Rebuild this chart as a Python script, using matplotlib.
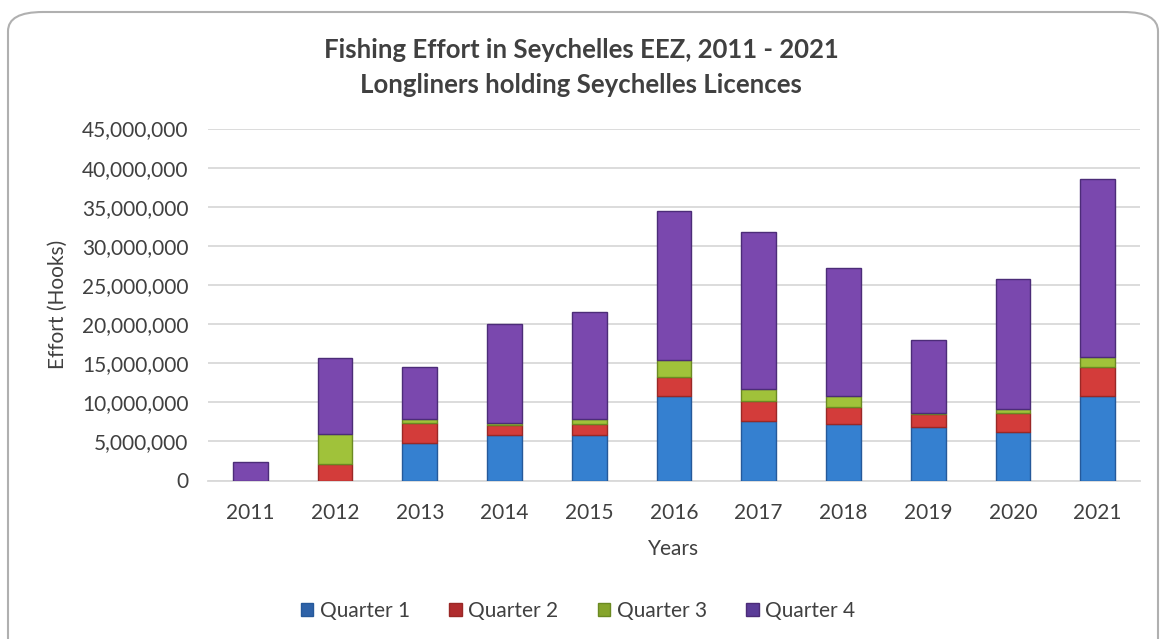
import matplotlib
matplotlib.use("Agg")
import matplotlib.pyplot as plt
from matplotlib.patches import FancyBboxPatch
from matplotlib.ticker import FuncFormatter
import numpy as np

years = ["2011", "2012", "2013", "2014", "2015", "2016", "2017", "2018", "2019", "2020", "2021"]
q1 = [0, 0, 4.80e6, 5.80e6, 5.80e6, 10.85e6, 7.55e6, 7.25e6, 6.80e6, 6.20e6, 10.85e6]
q2 = [0, 2.15e6, 2.55e6, 1.30e6, 1.45e6, 2.40e6, 2.60e6, 2.20e6, 1.65e6, 2.45e6, 3.60e6]
q3 = [0, 3.80e6, 0.45e6, 0.30e6, 0.55e6, 2.10e6, 1.55e6, 1.40e6, 0.15e6, 0.50e6, 1.30e6]
q4 = [2.35e6, 9.75e6, 6.70e6, 12.55e6, 13.75e6, 19.10e6, 20.10e6, 16.35e6, 9.40e6, 16.65e6, 22.80e6]
series_names = ["Quarter 1", "Quarter 2", "Quarter 3", "Quarter 4"]
colors = ["#3580D0", "#D33C3A", "#A0C23A", "#7A48AE"]
edges = ["#25599A", "#9A2826", "#6B8A22", "#4C2C78"]
legend_colors = ["#2E62A8", "#B02C2E", "#86A52C", "#5B3C98"]

plt.rcParams['font.family'] = ['Lato', 'DejaVu Sans']

fig = plt.figure(figsize=(11.62, 6.39), dpi=100)
fig.patch.set_facecolor("white")

frame = FancyBboxPatch((8/1162, -0.05), 1150/1162, 1 - 12/639 + 0.05,
                       boxstyle="round,pad=0,rounding_size=0.03",
                       transform=fig.transFigure, facecolor="white",
                       edgecolor="#B0B0B0", linewidth=1.5, zorder=-5)
fig.patches.append(frame)

ax = fig.add_axes([208/1162, 1 - 480.5/639, (1140 - 208)/1162, (480.5 - 128.5)/639])
ax.set_facecolor("none")
ax.set_zorder(2)

x = np.arange(len(years))
bottom = np.zeros(len(years))
handles = []
for vals, name, c, e in zip([q1, q2, q3, q4], series_names, colors, edges):
    h = ax.bar(x, vals, width=0.41, bottom=bottom, color=c, edgecolor=e,
               linewidth=1.0, label=name, zorder=3)
    handles.append(h)
    bottom += np.array(vals)

ax.set_xlim(-0.5, len(years) - 0.5)
ax.set_ylim(0, 45e6)
ax.set_yticks(np.arange(0, 45e6 + 1, 5e6))
ax.yaxis.set_major_formatter(FuncFormatter(lambda v, p: f"{int(v):,}"))
ax.set_xticks(x)
ax.set_xticklabels(years)
ax.grid(axis="y", color="#D9D9D9", linewidth=1.3, zorder=0)
for s in ["top", "right", "left"]:
    ax.spines[s].set_visible(False)
ax.spines["bottom"].set_color("#D9D9D9")
ax.spines["bottom"].set_linewidth(1.3)
ax.tick_params(axis="both", length=0, labelsize=15, colors="#404040", pad=16)
ax.tick_params(axis="y", pad=14)

ax.set_xlabel("Years", fontsize=15, color="#404040", labelpad=12)
ax.set_ylabel("Effort (Hooks)", fontsize=15, color="#404040", labelpad=10)

fig.text(0.5, 1 - 50/639, "Fishing Effort in Seychelles EEZ, 2011 - 2021",
         ha="center", va="center", fontsize=18.5, fontweight="bold", color="#404040")
fig.text(0.5, 1 - 85/639, "Longliners holding Seychelles Licences",
         ha="center", va="center", fontsize=18.5, fontweight="bold", color="#404040")

leg = fig.legend(handles=handles, labels=series_names, loc="center",
                 bbox_to_anchor=(578/1162, 1 - 611/639), ncol=4, frameon=False,
                 fontsize=15, handlelength=0.6, handleheight=0.6,
                 handletextpad=0.3, columnspacing=1.9)
for t in leg.get_texts():
    t.set_color("#404040")
for hnd, c in zip(leg.legend_handles, legend_colors):
    hnd.set_facecolor(c)

fig.savefig("out.png", dpi=100, facecolor="white")
